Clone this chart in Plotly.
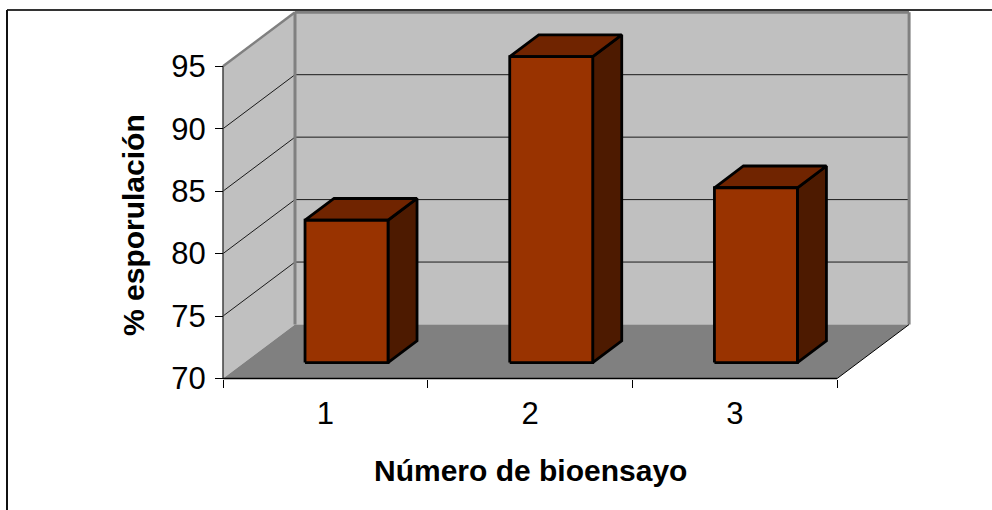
import plotly.graph_objects as go

# ---- data -------------------------------------------------------------
categories = ["1", "2", "3"]
esporulacion = [81.4, 94.5, 84.0]
y_ticks = [70, 75, 80, 85, 90, 95]
x_title = "Número de bioensayo"
y_title = "% esporulación"

# ---- geometry of the oblique 3-D box ------------------------------------
W, H = 992, 510
PX_X0 = 223.0        # screen x of the front-left floor corner
PX_PER_CAT = 204.7   # pixels per category slot
PX_Y0 = 378.5        # screen y of the front floor edge (value = y_min)
PX_PER_UNIT = 12.49  # pixels per % unit
DEPTH_PX = (72.0, 54.0)  # screen offset from the front plane to the back wall

BAR_HALF = 0.2027    # half width of a bar, in category units
BAR_D0, BAR_D1 = 0.294, 0.697  # depth span of the bars (0 = front, 1 = back)

y_min, y_max = y_ticks[0], y_ticks[-1]
n = len(categories)
x_lo, x_hi = 0.5, n + 0.5
DX = DEPTH_PX[0] / PX_PER_CAT
DY = DEPTH_PX[1] / PX_PER_UNIT

x_range = [x_lo - PX_X0 / PX_PER_CAT, x_lo + (W - PX_X0) / PX_PER_CAT]
y_range = [y_min - (H - PX_Y0) / PX_PER_UNIT, y_min + PX_Y0 / PX_PER_UNIT]


def proj(x, y, d):
    """Oblique projection of (category, value, depth) onto the 2-D axes."""
    return x + d * DX, y + d * DY


fig = go.Figure()


def polygon(pts, fill, line_color="black", line_width=0.0):
    xs, ys = zip(*[proj(*p) for p in pts])
    xs = list(xs) + [xs[0]]
    ys = list(ys) + [ys[0]]
    fig.add_trace(go.Scatter(
        x=xs, y=ys, mode="lines", fill="toself", fillcolor=fill,
        line=dict(color=line_color, width=line_width),
        hoverinfo="skip", showlegend=False))


def segment(p, q, color, width):
    (x0, y0), (x1, y1) = proj(*p), proj(*q)
    fig.add_trace(go.Scatter(
        x=[x0, x1], y=[y0, y1], mode="lines",
        line=dict(color=color, width=width),
        hoverinfo="skip", showlegend=False))


WALL = "#C0C0C0"
FLOOR = "#808080"
EDGE = "#808080"
GRID = "#1a1a1a"

# walls and floor
polygon([(x_lo, y_min, 0), (x_lo, y_min, 1), (x_lo, y_max, 1), (x_lo, y_max, 0)], WALL)
polygon([(x_lo, y_min, 1), (x_hi, y_min, 1), (x_hi, y_max, 1), (x_lo, y_max, 1)], WALL)
polygon([(x_lo, y_min, 0), (x_hi, y_min, 0), (x_hi, y_min, 1), (x_lo, y_min, 1)], FLOOR)

# gridlines on the side wall and back wall
for v in y_ticks[1:-1]:
    segment((x_lo, v, 0), (x_lo, v, 1), GRID, 1)
    segment((x_lo, v, 1), (x_hi, v, 1), GRID, 1)

# wall edges
segment((x_lo, y_max, 0), (x_lo, y_max, 1), EDGE, 2.5)
segment((x_lo, y_max, 1), (x_hi, y_max, 1), EDGE, 3)
segment((x_hi, y_max, 1), (x_hi, y_min, 1), EDGE, 3)
segment((x_lo, y_max, 1), (x_lo, y_min, 1), EDGE, 3)
segment((x_lo, y_min, 0), (x_lo, y_max, 0), "#404040", 1.5)

# floor edges
segment((x_lo, y_min, 0), (x_hi, y_min, 0), "black", 1.5)
segment((x_hi, y_min, 0), (x_hi, y_min, 1), "black", 1)

# bars: front, top and right-side faces
FRONT, TOP, SIDE = "#993300", "#702400", "#4D1A00"
for i, v in enumerate(esporulacion):
    c = i + 1
    l, r = c - BAR_HALF, c + BAR_HALF
    polygon([(r, y_min, BAR_D0), (r, y_min, BAR_D1), (r, v, BAR_D1), (r, v, BAR_D0)],
            SIDE, "black", 2.8)
    polygon([(l, v, BAR_D0), (r, v, BAR_D0), (r, v, BAR_D1), (l, v, BAR_D1)],
            TOP, "black", 2.8)
    polygon([(l, y_min, BAR_D0), (r, y_min, BAR_D0), (r, v, BAR_D0), (l, v, BAR_D0)],
            FRONT, "black", 2.8)

FONT = "Arial, Liberation Sans, sans-serif"

fig.update_layout(
    width=W, height=H,
    margin=dict(l=0, r=0, t=0, b=0),
    paper_bgcolor="white", plot_bgcolor="white",
    showlegend=False,
    font=dict(family=FONT, color="black"),
    xaxis=dict(
        range=x_range, domain=[0, 1], anchor="free",
        position=(H - PX_Y0) / H,
        showgrid=False, zeroline=False, showline=False,
        tickmode="array", tickvals=list(range(1, n + 1)), ticktext=categories,
        ticks="", tickfont=dict(size=31, family=FONT, color="black"),
        ticklabelstandoff=13,
        minor=dict(tickmode="array",
                   tickvals=[k + 0.5 for k in range(n + 1)],
                   ticks="outside", ticklen=8, tickwidth=1, tickcolor="black",
                   showgrid=False),
    ),
    yaxis=dict(
        range=y_range, domain=[0, 1], anchor="free",
        position=PX_X0 / W, side="left",
        showgrid=False, zeroline=False, showline=False,
        tickmode="array", tickvals=y_ticks,
        ticks="outside", ticklen=8, tickwidth=1, tickcolor="black",
        tickfont=dict(size=31, family=FONT, color="black"),
        ticklabelstandoff=3,
    ),
    annotations=[
        dict(text="<b>" + x_title + "</b>", xref="x", yref="paper",
             x=(x_lo + x_hi) / 2, y=(H - 470) / H,
             showarrow=False, xanchor="center", yanchor="middle",
             font=dict(size=30, family=FONT, color="black")),
        dict(text="<b>" + y_title + "</b>", xref="paper", yref="paper",
             x=133 / W, y=(H - 225) / H, textangle=-90,
             showarrow=False, xanchor="center", yanchor="middle",
             font=dict(size=30, family=FONT, color="black")),
    ],
    shapes=[
        dict(type="line", xref="paper", yref="paper",
             x0=7 / W, y0=1 - 10 / H, x1=1.01, y1=1 - 10 / H,
             line=dict(color="#333333", width=2)),
        dict(type="line", xref="paper", yref="paper",
             x0=7 / W, y0=1 - 10 / H, x1=7 / W, y1=-0.01,
             line=dict(color="#111111", width=2)),
    ],
)

fig.write_html("out.html", config={"displayModeBar": False})
